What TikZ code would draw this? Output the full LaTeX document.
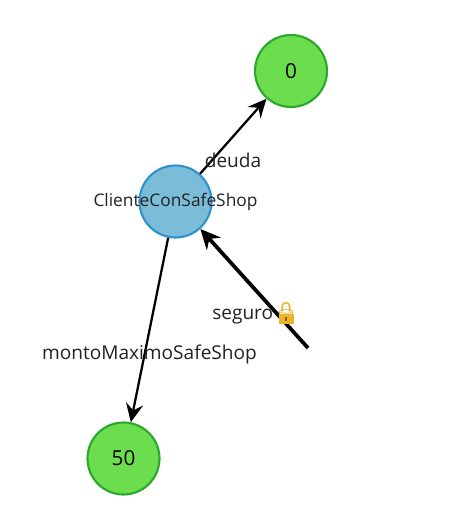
\documentclass[tikz,border=0pt]{standalone}
\usepackage{fontspec}
\setmainfont{Open Sans}
\newfontfamily\emojifont{Noto Emoji}
\usetikzlibrary{arrows.meta}
\definecolor{leaf}{HTML}{6BDD4F}
\definecolor{leafedge}{HTML}{2CA82C}
\definecolor{hub}{HTML}{7BBDD8}
\definecolor{hubedge}{HTML}{2E92CC}
\definecolor{inktext}{HTML}{222222}
\definecolor{lockgold}{HTML}{EDB32E}
\definecolor{lockline}{HTML}{8A6414}
\tikzset{
  x=0.75pt,y=-0.75pt,
  leafnode/.style={circle,draw=leafedge,fill=leaf,line width=1.6pt,minimum size=54pt,inner sep=0pt,font=\fontsize{15.5}{18}\selectfont,text=black},
  hubnode/.style={circle,draw=hubedge,fill=hub,line width=1.6pt,minimum size=54pt,inner sep=0pt},
  lbl/.style={font=\fontsize{14.3}{17}\selectfont,text=inktext,inner sep=0pt},
  hublbl/.style={font=\fontsize{13}{15}\selectfont,text=inktext,inner sep=0pt},
  conn/.style={draw=black,line width=1.7pt,-{Stealth[length=14pt,width=13pt,inset=5pt]}},
  connheavy/.style={draw=black,line width=2.8pt,-{Stealth[length=15pt,width=14pt,inset=5pt]}},
  lockglyph/.style={inner sep=0pt,font=\emojifont\fontsize{15}{16}\selectfont,text=lockgold},
}
\begin{document}
\begin{tikzpicture}
\useasboundingbox (0,0) rectangle (460,528);
\node[leafnode] (zero) at (291,71) {0};
\node[leafnode] (fifty) at (123.5,458.5) {50};
\node[hubnode] (cliente) at (175.5,201.5) {};
\coordinate (free) at (308,348);
\draw[conn] (cliente) -- (zero);
\draw[conn] (cliente) -- (fifty);
\draw[connheavy] (free) -- (cliente);
\node[hublbl] (clientelbl) at (175.5,201.5) {ClienteConSafeShop};
\node[lbl] (deuda) at (233,160.5) {deuda};
\node[lbl,anchor=west] (seguro) at (212,316.5) {seguro};
\fill[lockgold] (279,313.5) rectangle (293.5,323.5);
\node[lockglyph] (lock) at (286,313) {🔒};
\fill[lockline] (285.4,316.5) rectangle (287,320.5);
\node[lbl] (monto) at (149.5,354) {montoMaximoSafeShop};
\end{tikzpicture}
\end{document}
